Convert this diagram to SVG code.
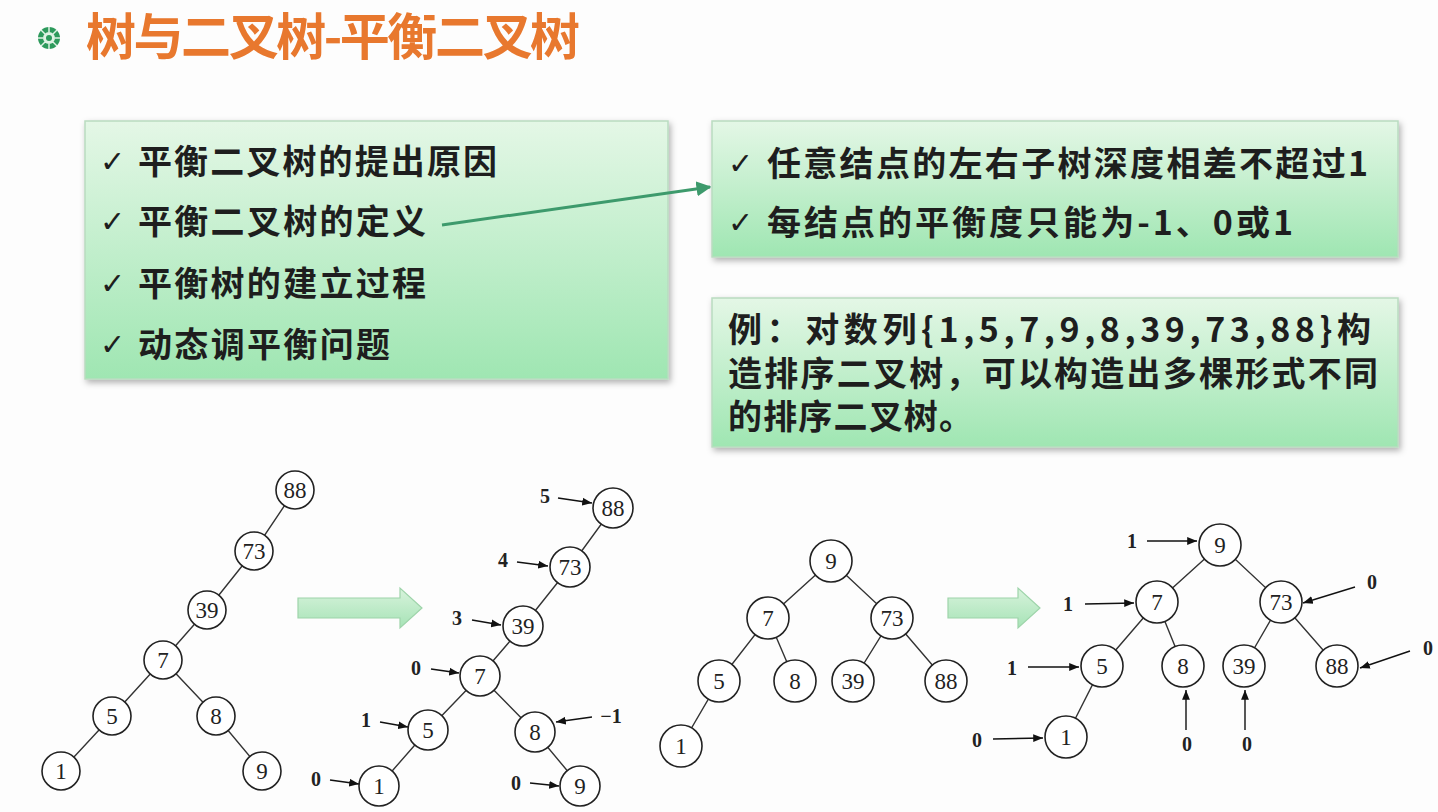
<svg xmlns="http://www.w3.org/2000/svg" width="1438" height="812" viewBox="0 0 1438 812">
<defs>
<linearGradient id="g" x1="0" y1="0" x2="0" y2="1"><stop offset="0" stop-color="#e4f7e6"/><stop offset="1" stop-color="#9fe6b2"/></linearGradient>
<linearGradient id="fa" x1="0" y1="0" x2="0" y2="1"><stop offset="0" stop-color="#d8f3dc"/><stop offset="1" stop-color="#a6e3b6"/></linearGradient>
<filter id="sh" x="-5%" y="-5%" width="110%" height="115%"><feDropShadow dx="2" dy="3" stdDeviation="3" flood-color="#000" flood-opacity="0.3"/></filter>
<marker id="ah" viewBox="0 0 10 10" refX="10" refY="5" markerWidth="7" markerHeight="7" orient="auto"><path d="M0,1 L10,5 L0,9 z" fill="#111"/></marker>
<marker id="gh" viewBox="0 0 10 10" refX="9" refY="5" markerWidth="5" markerHeight="5" orient="auto"><path d="M0,0 L10,5 L0,10 z" fill="#3d9a6c"/></marker>
</defs>
<style>
.box{fill:url(#g);stroke:#b9dcc0;stroke-width:1.5;filter:url(#sh)}
.t{font-family:"Noto Sans CJK SC","Liberation Sans",sans-serif;font-weight:bold;font-size:34px;fill:#1e1e1e}
.c{font-family:"DejaVu Sans",sans-serif;font-size:30px;fill:#1e1e1e}
.n circle{fill:#fff;stroke:#222;stroke-width:1.6}
.n text{font-family:"Liberation Serif",serif;font-size:23px;fill:#222;text-anchor:middle;dominant-baseline:central}
.e{stroke:#333;stroke-width:1.4;fill:none}
.l{font-family:"Liberation Serif",serif;font-size:20px;font-weight:bold;fill:#222;text-anchor:middle;dominant-baseline:central}
.a{stroke:#111;stroke-width:1.4;fill:none;marker-end:url(#ah)}
.fat{fill:url(#fa);stroke:#9ed4aa;stroke-width:1.2}
</style>
<rect width="1438" height="812" fill="#fdfdfd"/>
<g id="title">
<g transform="translate(49,38)" fill="#2d9a5c"><circle r="11"/><circle r="6" fill="#dff2e4"/><circle r="3"/>
<g stroke="#dff2e4" stroke-width="1.5"><line x1="0" y1="-11" x2="0" y2="-6"/><line x1="0" y1="11" x2="0" y2="6"/><line x1="-11" y1="0" x2="-6" y2="0"/><line x1="11" y1="0" x2="6" y2="0"/><line x1="-8" y1="-8" x2="-4" y2="-4"/><line x1="8" y1="8" x2="4" y2="4"/><line x1="-8" y1="8" x2="-4" y2="4"/><line x1="8" y1="-8" x2="4" y2="-4"/></g></g>
<text x="86" y="55" font-family="Noto Sans CJK SC,sans-serif" font-weight="bold" font-size="50" fill="#e8782e" textLength="494">树与二叉树-平衡二叉树</text>
</g>
<g id="box-left"><rect class="box" x="85" y="121" width="583" height="258"/>
<text class="c" x="100" y="172">✓</text><text class="t" x="138" y="174" textLength="359">平衡二叉树的提出原因</text>
<text class="c" x="100" y="232">✓</text><text class="t" x="138" y="234" textLength="288">平衡二叉树的定义</text>
<text class="c" x="100" y="294">✓</text><text class="t" x="138" y="296" textLength="288">平衡树的建立过程</text>
<text class="c" x="100" y="355">✓</text><text class="t" x="138" y="357" textLength="252">动态调平衡问题</text></g>
<g id="box-def"><rect class="box" x="712" y="121" width="686" height="136"/>
<text class="c" x="728" y="174">✓</text><text class="t" x="767" y="176" textLength="601">任意结点的左右子树深度相差不超过1</text>
<text class="c" x="728" y="233">✓</text><text class="t" x="767" y="235" textLength="526">每结点的平衡度只能为-1、0或1</text></g>
<g id="box-ex"><rect class="box" x="712" y="298" width="686" height="149"/>
<text class="t" x="728" y="342" textLength="643">例：对数列{1,5,7,9,8,39,73,88}构</text>
<text class="t" x="728" y="386" textLength="650">造排序二叉树，可以构造出多棵形式不同</text>
<text class="t" x="728" y="429" textLength="245">的排序二叉树。</text></g>
<g id="connectors">
<line x1="442" y1="225" x2="710" y2="187" stroke="#3d9a6c" stroke-width="3" marker-end="url(#gh)"/>
<path class="fat" d="M298,598 H400 V588 L422,608 L400,628 V618 H298 Z"/>
<path class="fat" d="M948,598 H1018 V588 L1040,608 L1018,628 V618 H948 Z"/>
<path class="e" d="M295,490L254,551L207,610L163,660L112,716L61,771M163,660L216,716L262,771"/>
<path class="e" d="M613,508L570,567L523,626L480,676L428,730L379,786M480,676L535,732L580,786"/>
<path class="e" d="M831,561L768,618L719,681L681,746M768,618L795,681M831,561L892,618L853,681M892,618L946,681"/>
<path class="e" d="M1220,545L1157,602L1102,666L1066,737M1157,602L1183,666M1220,545L1281,602L1244,666M1281,602L1337,666"/>
<path class="a" d="M558,498L592,503"/><path class="a" d="M517,562L548,566"/><path class="a" d="M472,620L501,625"/>
<path class="a" d="M431,669L459,673"/><path class="a" d="M380,722L408,727"/><path class="a" d="M592,717L556,722"/>
<path class="a" d="M330,780L359,784"/><path class="a" d="M530,783L559,786"/>
<path class="a" d="M1147,541L1197,541"/><path class="a" d="M1085,604L1134,603"/><path class="a" d="M1355,587L1303,603"/>
<path class="a" d="M1028,667L1079,667"/><path class="a" d="M1410,651L1360,668"/><path class="a" d="M993,739L1043,738"/>
<path class="a" d="M1186,730L1186,690"/><path class="a" d="M1245,730L1245,690"/>
</g>
<g id="labels">
<text class="l" x="545" y="496">5</text><text class="l" x="503" y="560">4</text><text class="l" x="457" y="618">3</text>
<text class="l" x="416" y="668">0</text><text class="l" x="366" y="720">1</text><text class="l" x="611" y="716">−1</text>
<text class="l" x="316" y="779">0</text><text class="l" x="516" y="783">0</text>
<text class="l" x="1132" y="541">1</text><text class="l" x="1068" y="604">1</text><text class="l" x="1372" y="582">0</text>
<text class="l" x="1012" y="668">1</text><text class="l" x="1428" y="648">0</text><text class="l" x="977" y="740">0</text>
<text class="l" x="1187" y="744">0</text><text class="l" x="1247" y="744">0</text>
</g>
<g class="n" id="t1-88"><circle cx="295" cy="490" r="19"/><text x="295" y="490">88</text></g>
<g class="n" id="t1-73"><circle cx="254" cy="551" r="19"/><text x="254" y="551">73</text></g>
<g class="n" id="t1-39"><circle cx="207" cy="610" r="19"/><text x="207" y="610">39</text></g>
<g class="n" id="t1-7"><circle cx="163" cy="660" r="19"/><text x="163" y="660">7</text></g>
<g class="n" id="t1-5"><circle cx="112" cy="716" r="19"/><text x="112" y="716">5</text></g>
<g class="n" id="t1-8"><circle cx="216" cy="716" r="19"/><text x="216" y="716">8</text></g>
<g class="n" id="t1-1"><circle cx="61" cy="771" r="19"/><text x="61" y="771">1</text></g>
<g class="n" id="t1-9"><circle cx="262" cy="771" r="19"/><text x="262" y="771">9</text></g>
<g class="n" id="t2-88"><circle cx="613" cy="508" r="20"/><text x="613" y="508">88</text></g>
<g class="n" id="t2-73"><circle cx="570" cy="567" r="20"/><text x="570" y="567">73</text></g>
<g class="n" id="t2-39"><circle cx="523" cy="626" r="20"/><text x="523" y="626">39</text></g>
<g class="n" id="t2-7"><circle cx="480" cy="676" r="20"/><text x="480" y="676">7</text></g>
<g class="n" id="t2-5"><circle cx="428" cy="730" r="20"/><text x="428" y="730">5</text></g>
<g class="n" id="t2-8"><circle cx="535" cy="732" r="20"/><text x="535" y="732">8</text></g>
<g class="n" id="t2-1"><circle cx="379" cy="786" r="20"/><text x="379" y="786">1</text></g>
<g class="n" id="t2-9"><circle cx="580" cy="786" r="20"/><text x="580" y="786">9</text></g>
<g class="n" id="t3-9"><circle cx="831" cy="561" r="21"/><text x="831" y="561">9</text></g>
<g class="n" id="t3-7"><circle cx="768" cy="618" r="21"/><text x="768" y="618">7</text></g>
<g class="n" id="t3-73"><circle cx="892" cy="618" r="21"/><text x="892" y="618">73</text></g>
<g class="n" id="t3-5"><circle cx="719" cy="681" r="21"/><text x="719" y="681">5</text></g>
<g class="n" id="t3-8"><circle cx="795" cy="681" r="21"/><text x="795" y="681">8</text></g>
<g class="n" id="t3-39"><circle cx="853" cy="681" r="21"/><text x="853" y="681">39</text></g>
<g class="n" id="t3-88"><circle cx="946" cy="681" r="21"/><text x="946" y="681">88</text></g>
<g class="n" id="t3-1"><circle cx="681" cy="746" r="21"/><text x="681" y="746">1</text></g>
<g class="n" id="t4-9"><circle cx="1220" cy="545" r="21"/><text x="1220" y="545">9</text></g>
<g class="n" id="t4-7"><circle cx="1157" cy="602" r="21"/><text x="1157" y="602">7</text></g>
<g class="n" id="t4-73"><circle cx="1281" cy="602" r="21"/><text x="1281" y="602">73</text></g>
<g class="n" id="t4-5"><circle cx="1102" cy="666" r="21"/><text x="1102" y="666">5</text></g>
<g class="n" id="t4-8"><circle cx="1183" cy="666" r="21"/><text x="1183" y="666">8</text></g>
<g class="n" id="t4-39"><circle cx="1244" cy="666" r="21"/><text x="1244" y="666">39</text></g>
<g class="n" id="t4-88"><circle cx="1337" cy="666" r="21"/><text x="1337" y="666">88</text></g>
<g class="n" id="t4-1"><circle cx="1066" cy="737" r="21"/><text x="1066" y="737">1</text></g>
</svg>
